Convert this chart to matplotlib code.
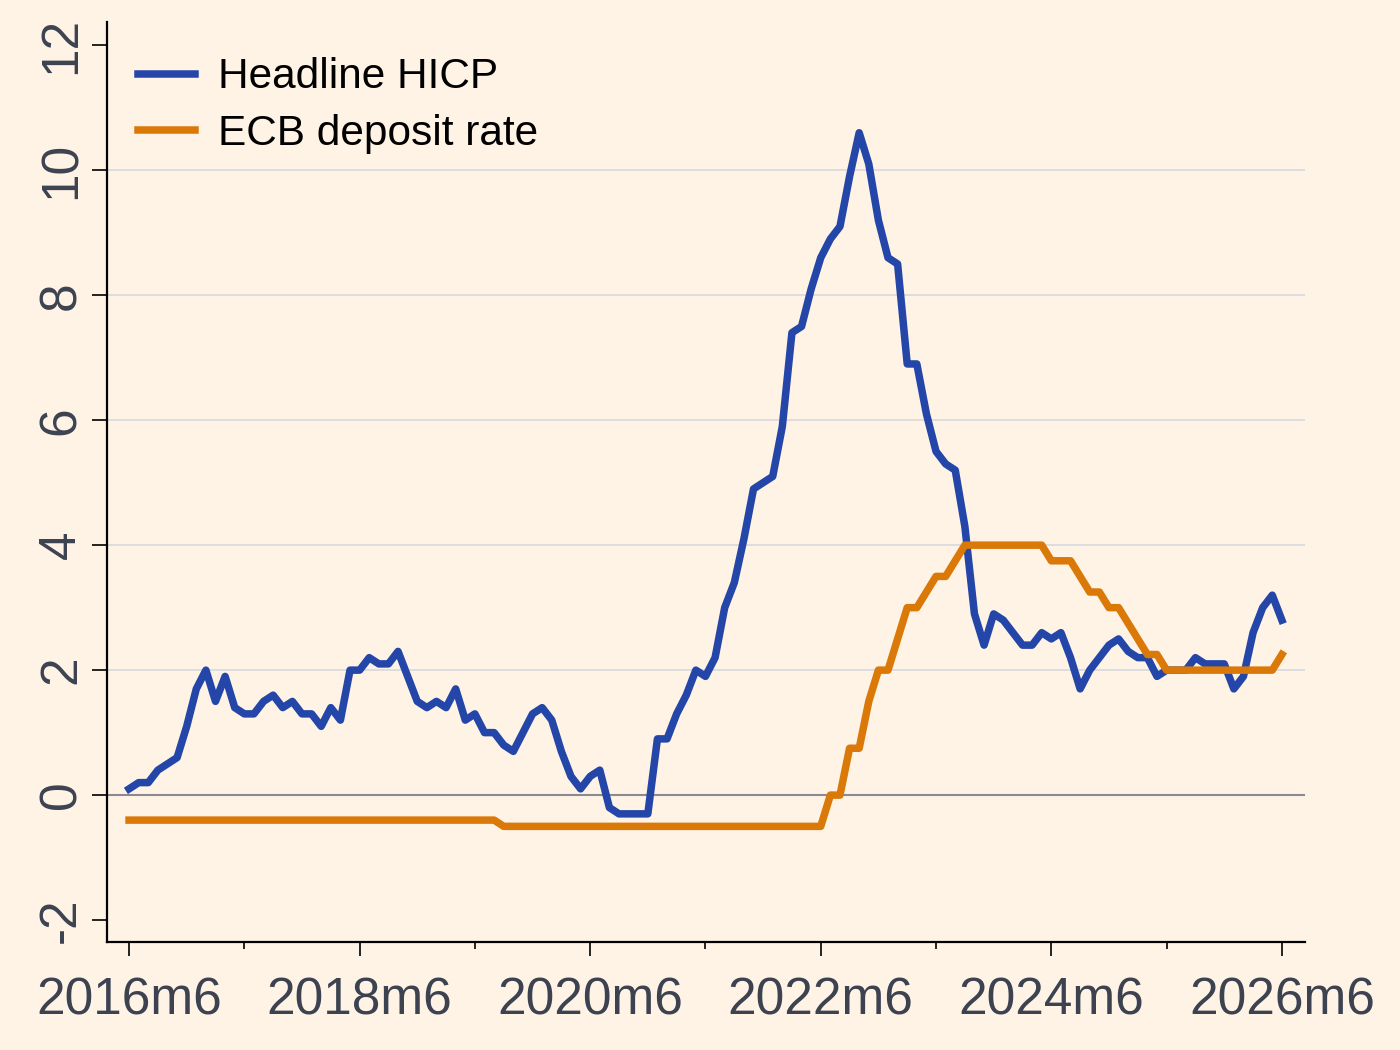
#
# Headline HICP vs ECB deposit rate, monthly, 2016m6-2026m6
#
import matplotlib
matplotlib.use('Agg')
import matplotlib.pyplot as plt

plt.rcParams.update({
    "font.family": ["Liberation Sans", "DejaVu Sans"],
    "font.size": 30,
})

# monthly observations starting 2016m6
hicp = [0.1, 0.2, 0.2, 0.4, 0.5, 0.6, 1.1, 1.7, 2.0, 1.5, 1.9, 1.4,
        1.3, 1.3, 1.5, 1.6, 1.4, 1.5, 1.3, 1.3, 1.1, 1.4, 1.2, 2.0,
        2.0, 2.2, 2.1, 2.1, 2.3, 1.9, 1.5, 1.4, 1.5, 1.4, 1.7, 1.2,
        1.3, 1.0, 1.0, 0.8, 0.7, 1.0, 1.3, 1.4, 1.2, 0.7, 0.3, 0.1,
        0.3, 0.4, -0.2, -0.3, -0.3, -0.3, -0.3, 0.9, 0.9, 1.3, 1.6, 2.0,
        1.9, 2.2, 3.0, 3.4, 4.1, 4.9, 5.0, 5.1, 5.9, 7.4, 7.5, 8.1,
        8.6, 8.9, 9.1, 9.9, 10.6, 10.1, 9.2, 8.6, 8.5, 6.9, 6.9, 6.1,
        5.5, 5.3, 5.2, 4.3, 2.9, 2.4, 2.9, 2.8, 2.6, 2.4, 2.4, 2.6,
        2.5, 2.6, 2.2, 1.7, 2.0, 2.2, 2.4, 2.5, 2.3, 2.2, 2.2, 1.9,
        2.0, 2.0, 2.0, 2.2, 2.1, 2.1, 2.1, 1.7, 1.9, 2.6, 3.0, 3.2,
        2.8]

depo = [-0.4] * 39 + [-0.5] * 34 + [
        0.0, 0.0, 0.75, 0.75, 1.5, 2.0, 2.0, 2.5, 3.0, 3.0, 3.25, 3.5,
        3.5, 3.75, 4.0, 4.0, 4.0, 4.0, 4.0, 4.0, 4.0, 4.0, 4.0, 3.75,
        3.75, 3.75, 3.5, 3.25, 3.25, 3.0, 3.0, 2.75, 2.5, 2.25, 2.25, 2.0,
        2.0, 2.0, 2.0, 2.0, 2.0, 2.0, 2.0, 2.0, 2.0, 2.0, 2.0, 2.25]

months = list(range(len(hicp)))
xticks = [0, 24, 48, 72, 96, 120]
xlabels = ['2016m6', '2018m6', '2020m6', '2022m6', '2024m6', '2026m6']
yticks = [-2, 0, 2, 4, 6, 8, 10, 12]

bg = '#FFF3E5'
tickcol = '#3C4250'

fig = plt.figure(figsize=(14, 10.5), dpi=100, facecolor=bg)
ax = fig.add_axes([0.0764, 0.1029, 0.8557, 0.876], facecolor=bg)

for y in [2, 4, 6, 8, 10]:
    ax.axhline(y, color='#DADADF', lw=1.3, zorder=1)
ax.axhline(0, color='#8A8A90', lw=1.5, zorder=1)

ax.plot(months, hicp, color='#2346A8', lw=5.4, solid_joinstyle='round',
        label='Headline HICP', zorder=3)
ax.plot(months, depo, color='#DA7808', lw=5.4, solid_joinstyle='round',
        label='ECB deposit rate', zorder=4)

ax.set_xlim(-2.3, 122.4)
ax.set_ylim(-2.35, 12.37)
ax.set_xticks(xticks)
ax.set_xticklabels(xlabels)
ax.set_xticks(range(12, 120, 24), minor=True)
ax.set_yticks(yticks)
ax.set_yticklabels([str(v) for v in yticks])
plt.setp(ax.get_yticklabels(), rotation=90, va='center')

ax.tick_params(axis='x', which='major', length=10, width=1.2, pad=15,
               labelsize=37, labelcolor=tickcol)
ax.tick_params(axis='x', which='minor', length=5, width=1.2)
ax.tick_params(axis='y', length=11, width=1.2, pad=4,
               labelsize=37, labelcolor=tickcol)

for s in ['top', 'right']:
    ax.spines[s].set_visible(False)
for s in ['left', 'bottom']:
    ax.spines[s].set_linewidth(1.6)

ax.legend(loc='upper left', frameon=False, fontsize=30.5, handlelength=1.35,
          handletextpad=0.55, labelspacing=0.4, borderaxespad=0.3,
          bbox_to_anchor=(0.001, 0.994))

plt.savefig('out.png', facecolor=bg)
